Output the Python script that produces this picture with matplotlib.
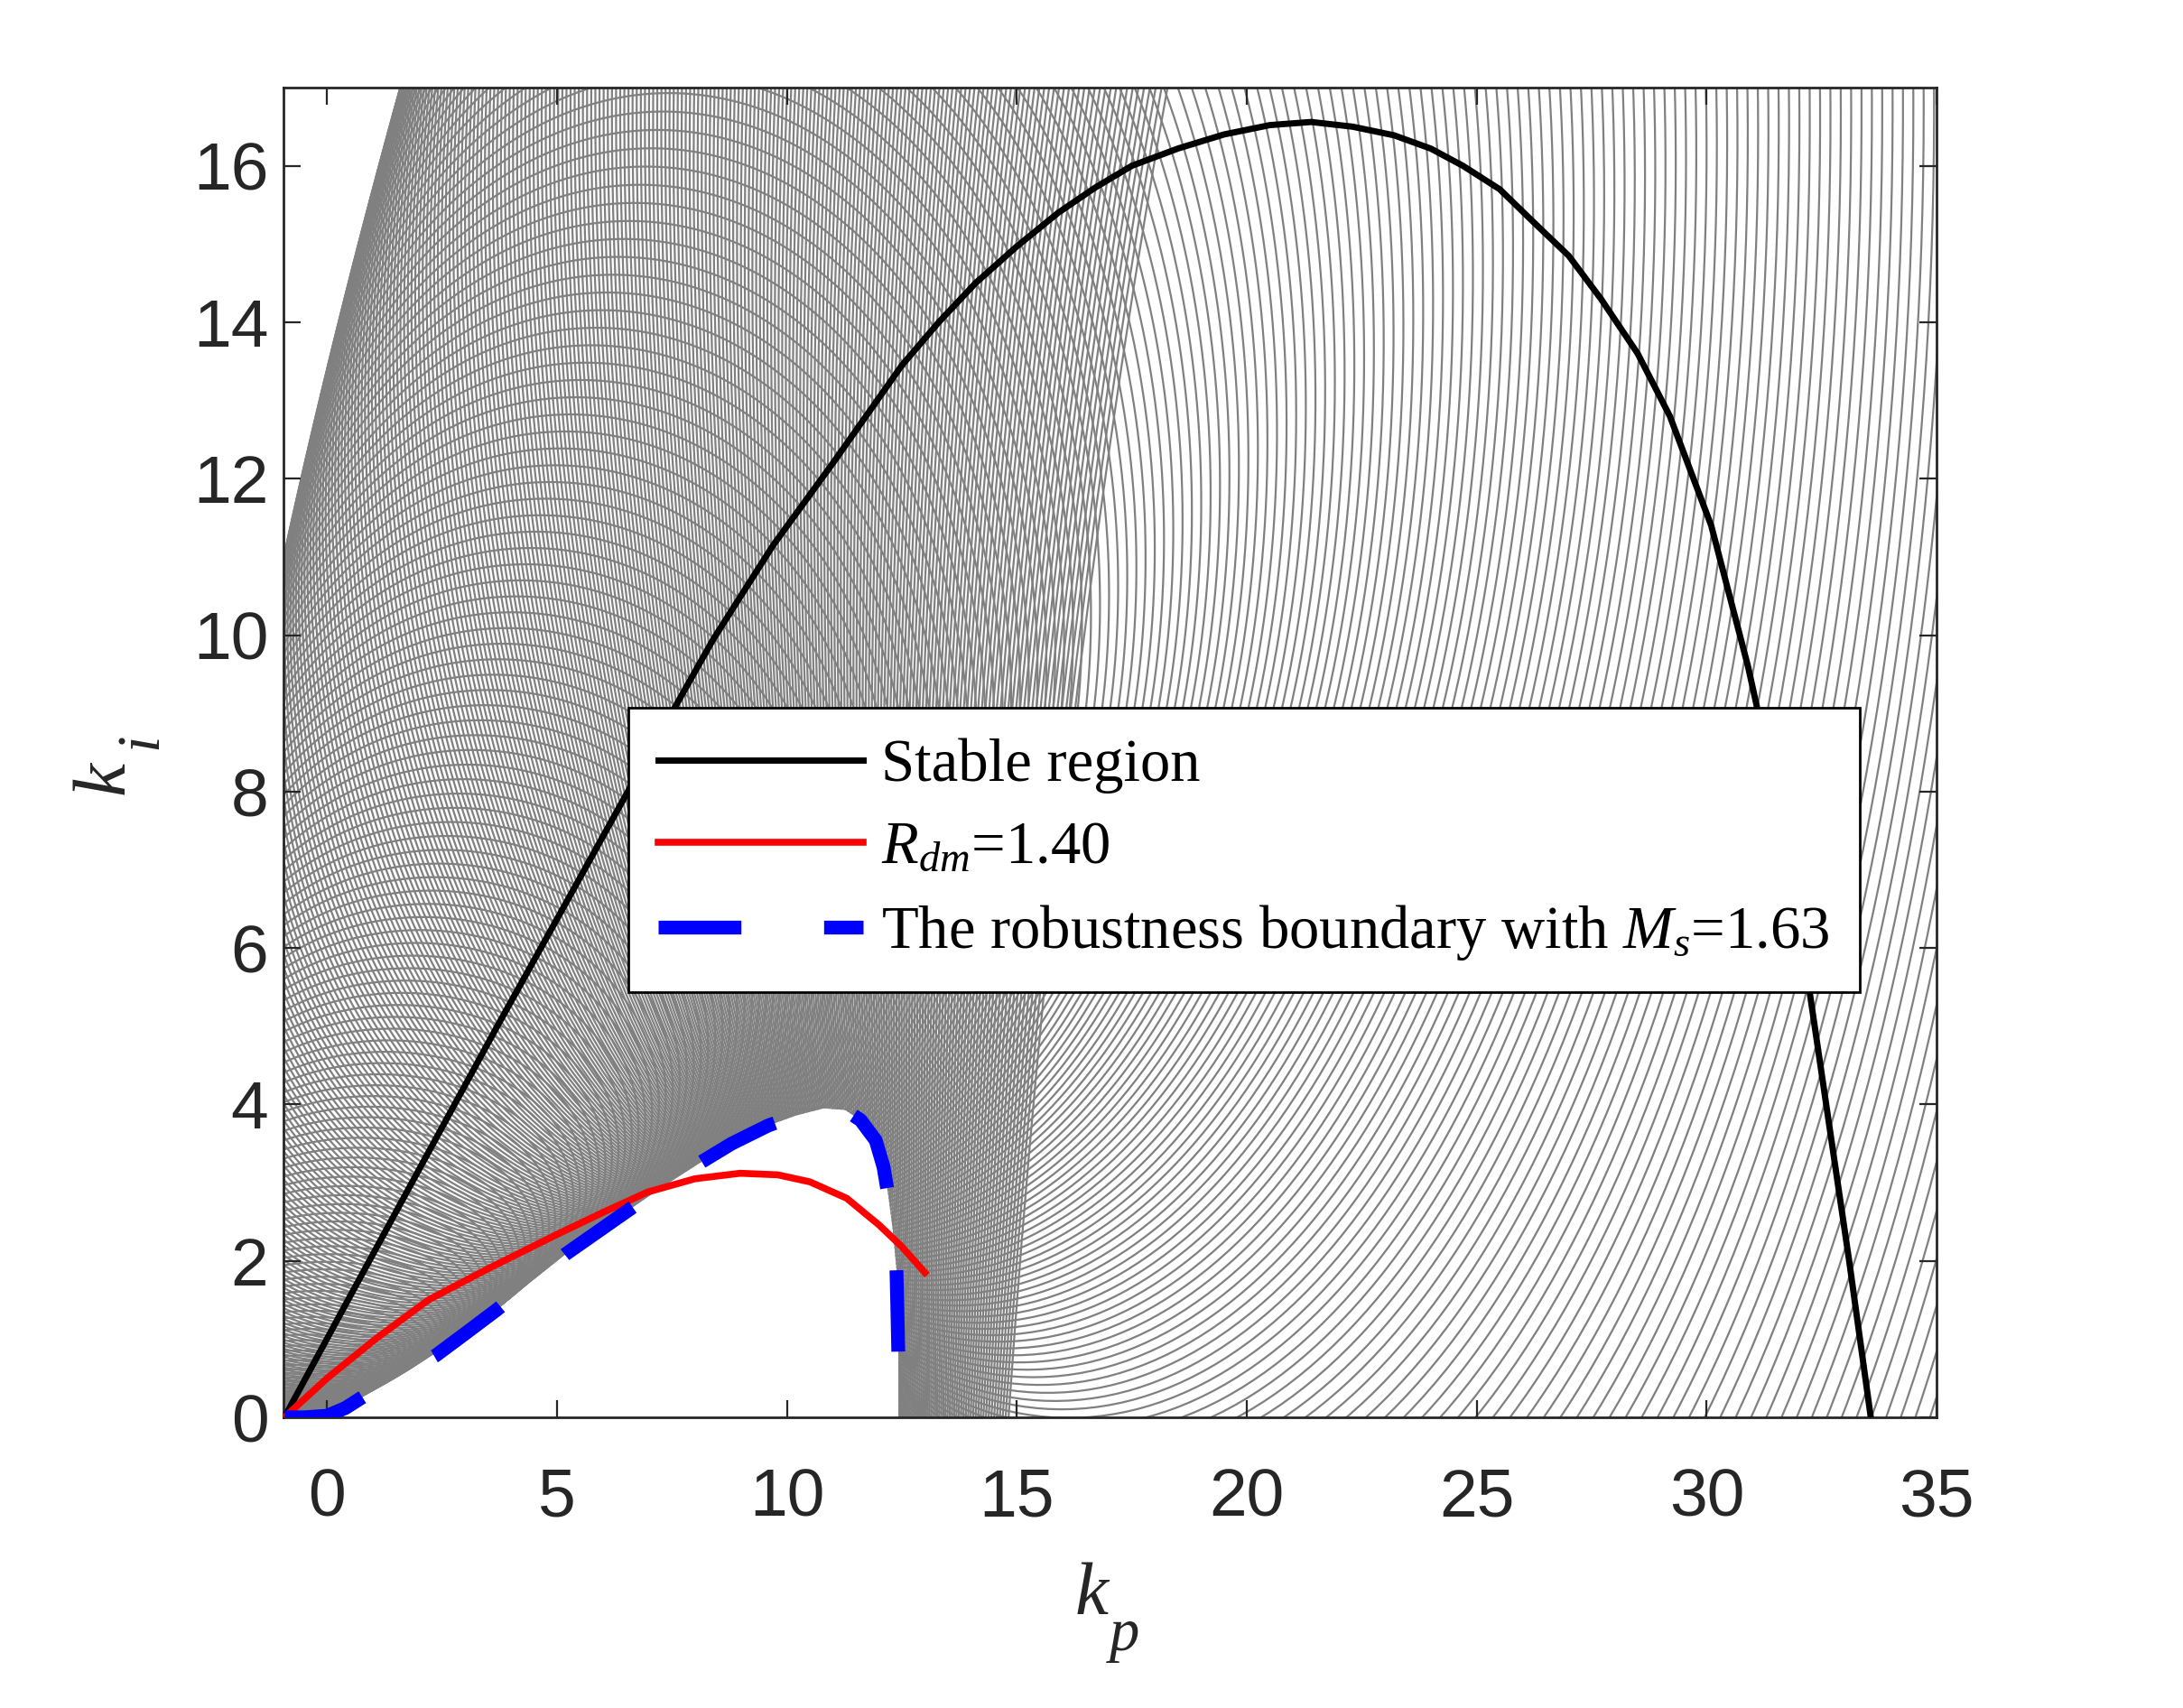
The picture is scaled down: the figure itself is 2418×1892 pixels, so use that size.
import numpy as np
import matplotlib.pyplot as plt
from matplotlib.collections import LineCollection
from matplotlib.path import Path

plt.rcParams['mathtext.fontset'] = 'custom'
plt.rcParams['mathtext.rm'] = 'Liberation Serif'
plt.rcParams['mathtext.it'] = 'Liberation Serif:italic'

# --- values ---
# stable region boundary (black)
stable_kp = [-0.93, 0.5, 2.0, 3.7, 5.5, 7.2, 8.4, 9.7, 11.0, 12.5, 13.3, 14.1, 15.0, 15.9, 16.7,
             17.5, 18.5, 19.5, 20.5, 21.4, 22.3, 23.2, 24.0, 24.7, 25.5, 26.2, 27.0, 27.7, 28.5,
             29.2, 30.1, 30.9, 31.5, 32.1, 32.6, 33.1, 33.57]
stable_ki = [0.0, 1.55, 3.17, 5.0, 6.9, 8.7, 9.95, 11.15, 12.2, 13.45, 14.0, 14.5, 14.97, 15.4, 15.72,
             16.0, 16.22, 16.4, 16.52, 16.56, 16.5, 16.39, 16.22, 16.0, 15.7, 15.3, 14.85, 14.3, 13.6,
             12.8, 11.4, 9.6, 8.0, 6.0, 4.0, 2.0, 0.0]

# R_dm = 1.40 (red)
rdm_kp = [-0.93, 0.0, 1.05, 2.2, 3.5, 4.97, 6.0, 6.97, 8.0, 8.98, 9.8, 10.5, 11.3, 12.0, 12.5, 13.0]
rdm_ki = [0.0, 0.5, 1.0, 1.5, 1.9, 2.33, 2.62, 2.88, 3.05, 3.12, 3.1, 3.01, 2.8, 2.46, 2.18, 1.85]

# robustness boundary Ms = 1.63 (blue dashed)
ms_kp = [-0.93, -0.5, 0.0, 0.4, 0.8, 1.5, 2.36, 3.0, 3.7, 4.4, 5.17, 5.9, 6.58, 7.3, 8.07, 8.8,
         9.59, 10.2, 10.8, 11.26, 11.6, 11.93, 12.1, 12.2, 12.3, 12.38, 12.4, 12.42]
ms_ki = [0.0, 0.0, 0.02, 0.12, 0.27, 0.5, 0.79, 1.07, 1.38, 1.72, 2.08, 2.38, 2.66, 2.95, 3.24, 3.5,
         3.73, 3.86, 3.95, 3.93, 3.8, 3.54, 3.2, 2.85, 2.4, 1.9, 1.4, 0.84]

Ms = 1.63
x_ticks = [0, 5, 10, 15, 20, 25, 30, 35]
y_ticks = [0, 2, 4, 6, 8, 10, 12, 14, 16]

# first-order-plus-dead-time plant behind the grey circle family
K = 1 / 0.93
T_over_L = 22.94
L = 0.754
wc = 1.598 / L          # stability crossover frequency
T = T_over_L * L

xlim = (-0.95, 35)
ylim = (0, 17)

# one Ms circle per frequency, mapped to the (kp, ki) plane
N = 340
w = np.linspace(wc / N, 1.1 * wc, N)
th = np.linspace(0, 2 * np.pi, 300)
G = K * np.exp(-1j * w * L) / (1 + 1j * w * T)
c = (-1 + np.exp(1j * th)[None, :] / Ms) / G[:, None]
segs = np.stack([c.real, -w[:, None] * c.imag], axis=-1)

fig = plt.figure(figsize=(24.18, 18.92), dpi=100)
ax = fig.add_axes([0.12986, 0.17019, 0.75724, 0.77854])

grey = LineCollection(segs, colors='#808080', linewidths=1.6, zorder=1)
ax.add_collection(grey)

# keep the grey family out of the robust pocket under the blue boundary
outer = [(xlim[0], ylim[0]), (xlim[1], ylim[0]), (xlim[1], ylim[1]), (xlim[0], ylim[1]),
         (xlim[0], ylim[0])]
inner = list(zip(ms_kp, ms_ki)) + [(ms_kp[-1] + 0.01, -1), (ms_kp[0], -1), (ms_kp[0], ms_ki[0])]
verts = outer + inner
codes = ([Path.MOVETO] + [Path.LINETO] * 3 + [Path.CLOSEPOLY]
         + [Path.MOVETO] + [Path.LINETO] * (len(inner) - 2) + [Path.CLOSEPOLY])
grey.set_clip_path(Path(verts, codes), ax.transData)

ax.plot(stable_kp, stable_ki, color='black', lw=5, label='Stable region', zorder=3)
ax.plot(rdm_kp, rdm_ki, color='red', lw=5.5, label=r'$R_{dm}$=1.40', zorder=4)
ax.plot(ms_kp, ms_ki, color='blue', lw=11, dashes=(6, 6), dash_capstyle='butt',
        label=r'The robustness boundary with $M_s$=1.63', zorder=5)

ax.set_xlim(*xlim)
ax.set_ylim(*ylim)
ax.set_xticks(x_ticks)
ax.set_yticks(y_ticks)
ax.tick_params(direction='in', length=13.7, width=1.6, top=True, right=True,
               labelsize=54, colors='#262626')
ax.tick_params(axis='x', pad=40)
ax.tick_params(axis='y', pad=12)
for lab in ax.get_xticklabels() + ax.get_yticklabels():
    lab.set_family('Liberation Sans')
for sp in ax.spines.values():
    sp.set_linewidth(2)
    sp.set_color('#262626')

leg = ax.legend(loc='upper left', bbox_to_anchor=(0.2086, 0.5336), borderaxespad=0,
                prop={'family': 'Liberation Serif', 'size': 48}, handlelength=3.4,
                handletextpad=0.3, labelspacing=0.45, borderpad=0.5,
                fancybox=False, framealpha=1, edgecolor='black')
leg.get_frame().set_linewidth(2)

W, H = 2418, 1892
serif = {'family': 'Liberation Serif', 'style': 'italic', 'color': '#262626'}
fig.text(1209 / W, 1 - 1788 / H, 'k', ha='center', va='baseline', fontsize=60, **serif)
fig.text(1246 / W, 1 - 1828 / H, 'p', ha='center', va='baseline', fontsize=48, **serif)
fig.text(117 / W, 1 - 843 / H, 'k', ha='right', va='center', rotation=90, fontsize=60,
         rotation_mode='anchor', **serif)
fig.text(157 / W, 1 - 812 / H, 'i', ha='right', va='center', rotation=90, fontsize=48,
         rotation_mode='anchor', **serif)

fig.savefig('out.png', dpi=100)
